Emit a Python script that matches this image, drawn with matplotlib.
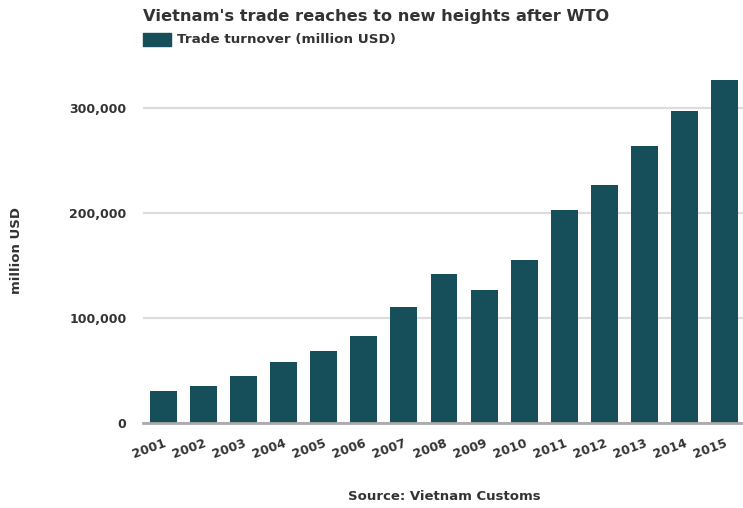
import numpy as np
import matplotlib.pyplot as plt
from matplotlib.ticker import FuncFormatter

# Vietnam trade turnover, million USD
years = ["2001", "2002", "2003", "2004", "2005", "2006", "2007", "2008",
         "2009", "2010", "2011", "2012", "2013", "2014", "2015"]
turnover = [30100, 34900, 45000, 58100, 68900, 83100, 110100, 142200,
            127000, 155500, 202500, 227000, 263500, 296800, 326300]

bar_color = "#164e5a"
text_color = "#333333"

plt.rcParams["font.family"] = "DejaVu Sans"

fig = plt.figure(figsize=(7.43, 5.08), dpi=100)
ax = fig.add_axes([143 / 743, 85 / 508, 602 / 743, 367.5 / 508])

x = np.arange(len(years))
ax.bar(x, turnover, width=0.67, color=bar_color, zorder=3)

ax.set_xlim(-0.5, len(years) - 0.5)
ax.set_ylim(0, 350000)
ax.set_yticks([0, 100000, 200000, 300000])
ax.yaxis.set_major_formatter(FuncFormatter(lambda v, p: f"{int(v):,}"))

ax.grid(axis="y", color="#dddddd", linewidth=1.6, zorder=0)
for s in ["top", "right", "left"]:
    ax.spines[s].set_visible(False)
ax.spines["bottom"].set_color("#aaaaaa")
ax.spines["bottom"].set_linewidth(2)
ax.spines["bottom"].set_zorder(4)

ax.tick_params(axis="y", length=0, pad=12, labelsize=9, labelcolor=text_color)
ax.tick_params(axis="x", length=0, pad=10, labelsize=9, labelcolor=text_color)
for lbl in ax.get_yticklabels():
    lbl.set_fontweight("bold")

ax.set_xticks(x)
ax.set_xticklabels(years, rotation=20, ha="right", rotation_mode="anchor",
                   fontweight="bold")

fig.text(17 / 743, 1 - 251 / 508, "million USD", rotation=90, ha="center",
         va="center", fontsize=9.5, fontweight="bold", color=text_color)

fig.text(143 / 743, 1 - 16 / 508,
         "Vietnam's trade reaches to new heights after WTO",
         ha="left", va="center", fontsize=11.7, fontweight="bold", color=text_color)

# legend swatch + label
fig.patches.append(plt.Rectangle((143 / 743, 1 - 46 / 508), 28 / 743, 13 / 508,
                                 transform=fig.transFigure, color=bar_color))
fig.text(177 / 743, 1 - 40 / 508, "Trade turnover (million USD)",
         ha="left", va="center", fontsize=9.7, fontweight="bold", color=text_color)

fig.text(444 / 743, 1 - 497 / 508, "Source: Vietnam Customs", ha="center",
         va="center", fontsize=9.5, fontweight="bold", color=text_color)

fig.savefig("out.png", dpi=100)
